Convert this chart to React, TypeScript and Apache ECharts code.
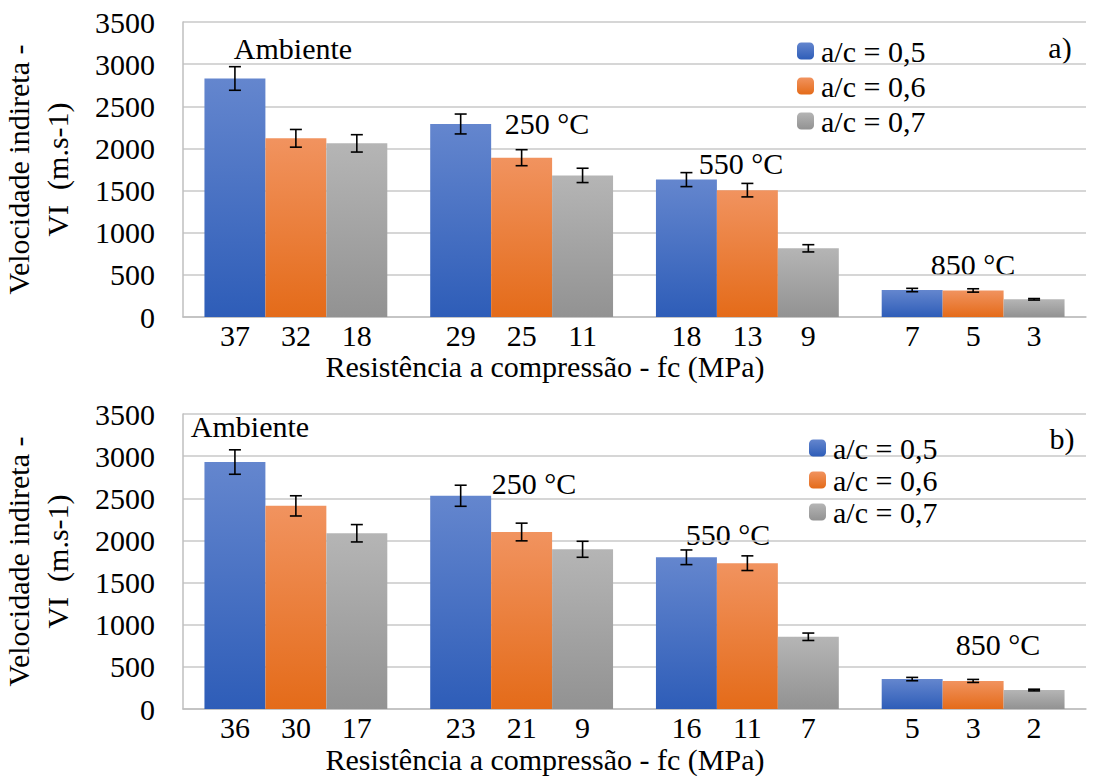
import React, { useEffect, useRef } from "react";
import * as echarts from "echarts";

const categories = ["Ambiente", "250 °C", "550 °C", "850 °C"];
const seriesNames = ["a/c = 0,5", "a/c = 0,6", "a/c = 0,7"];

// Panel a)
const fcA05 = [37, 29, 18, 7];
const fcA06 = [32, 25, 13, 5];
const fcA07 = [18, 11, 9, 3];
const vA05 = [2830, 2290, 1630, 320];
const vA06 = [2120, 1890, 1505, 315];
const vA07 = [2060, 1680, 815, 210];
const eA05 = [140, 118, 83, 20];
const eA06 = [105, 95, 80, 20];
const eA07 = [103, 85, 43, 9];

// Panel b)
const fcB05 = [36, 23, 16, 5];
const fcB06 = [30, 21, 11, 3];
const fcB07 = [17, 9, 7, 2];
const vB05 = [2930, 2530, 1800, 355];
const vB06 = [2410, 2100, 1730, 333];
const vB07 = [2085, 1895, 857, 225];
const eB05 = [145, 125, 87, 20];
const eB06 = [120, 105, 87, 18];
const eB07 = [103, 95, 44, 10];

const yTicks = { min: 0, max: 3500, interval: 500 };

const FONT = "Liberation Serif, DejaVu Serif, Times New Roman, Times, serif";
const FS = 30;
const CAT_GAP = 0.19;

const grad = (top: string, bottom: string) =>
  new echarts.graphic.LinearGradient(0, 0, 0, 1, [
    { offset: 0, color: top },
    { offset: 1, color: bottom },
  ]);

const colors = [
  ["#6486ce", "#2e5db8"],
  ["#f1935f", "#e46b19"],
  ["#b5b5b5", "#929292"],
];

function barSeries(idx: number, grid: number, values: number[], fc: number[]) {
  return {
    type: "bar",
    name: seriesNames[idx],
    xAxisIndex: grid,
    yAxisIndex: grid,
    data: values,
    barGap: "0%",
    barCategoryGap: CAT_GAP * 100 + "%",
    itemStyle: { color: grad(colors[idx][0], colors[idx][1]) },
    label: {
      show: true,
      position: "bottom",
      distance: 3,
      formatter: (p: any) => String(fc[p.dataIndex]),
      fontFamily: FONT,
      fontSize: FS,
      color: "#000",
    },
  };
}

function errSeries(idx: number, grid: number, values: number[], errs: number[]) {
  return {
    type: "custom",
    name: "err" + grid + "_" + idx,
    xAxisIndex: grid,
    yAxisIndex: grid,
    z: 10,
    data: values.map((v, i) => [i, v - errs[i], v + errs[i]]),
    renderItem: (params: any, api: any) => {
      const c = api.value(0);
      const lo = api.coord([c, api.value(1)]);
      const hi = api.coord([c, api.value(2)]);
      const band = api.size([1, 0])[0];
      const bw = (band * (1 - CAT_GAP)) / 3;
      const x = lo[0] + (idx - 1) * bw;
      const hw = 6;
      const style = { stroke: "#000", lineWidth: 1.6 };
      return {
        type: "group",
        children: [
          { type: "line", shape: { x1: x, y1: lo[1], x2: x, y2: hi[1] }, style },
          { type: "line", shape: { x1: x - hw, y1: lo[1], x2: x + hw, y2: lo[1] }, style },
          { type: "line", shape: { x1: x - hw, y1: hi[1], x2: x + hw, y2: hi[1] }, style },
        ],
      };
    },
  };
}

const axisLabelStyle = { fontFamily: FONT, fontSize: FS, color: "#000" };

function yAxis(grid: number) {
  return {
    type: "value",
    gridIndex: grid,
    ...yTicks,
    name: "Velocidade indireta -\nVI  (m.s-1)",
    nameLocation: "middle",
    nameGap: 106,
    nameTextStyle: { fontFamily: FONT, fontSize: FS, color: "#000", lineHeight: 39 },
    axisLine: { show: true, lineStyle: { color: "#bfbfbf", width: 1.5 } },
    axisTick: { show: false },
    axisLabel: { ...axisLabelStyle, margin: 28, formatter: (v: number) => String(v) },
    splitLine: { lineStyle: { color: "#c8c8c8", width: 1.5 } },
  };
}

function xAxis(grid: number) {
  return {
    type: "category",
    gridIndex: grid,
    data: categories,
    axisLine: { show: true, lineStyle: { color: "#bfbfbf", width: 1.5 } },
    axisTick: { show: false },
    axisLabel: { show: false },
  };
}

function txt(text: string, x: number, y: number, align = "center") {
  return {
    type: "text",
    x,
    y,
    style: {
      text,
      fontFamily: FONT,
      fontSize: FS,
      fill: "#000",
      align,
      verticalAlign: "middle",
    },
  };
}

export default function App() {
  const ref = useRef<HTMLDivElement>(null);
  useEffect(() => {
    if (!ref.current) return;
    const chart = echarts.init(ref.current, undefined, { renderer: "svg" });
    const legendBase = {
      orient: "vertical",
      data: seriesNames,
      itemWidth: 17,
      itemHeight: 17,
      textStyle: { fontFamily: FONT, fontSize: FS, color: "#000", padding: [0, 0, 0, 2] },
      selectedMode: false,
    };
    chart.setOption({
      animation: false,
      backgroundColor: "#fff",
      textStyle: { fontFamily: FONT },
      grid: [
        { left: 183, right: 13, top: 22, height: 295, containLabel: false, outerBoundsMode: "none" },
        { left: 183, right: 13, top: 414, height: 295, containLabel: false, outerBoundsMode: "none" },
      ],
      xAxis: [xAxis(0), xAxis(1)],
      yAxis: [yAxis(0), yAxis(1)],
      legend: [
        { ...legendBase, left: 792, top: 31, itemGap: 5 },
        { ...legendBase, left: 804, top: 428, itemGap: 2 },
      ],
      series: [
        barSeries(0, 0, vA05, fcA05),
        barSeries(1, 0, vA06, fcA06),
        barSeries(2, 0, vA07, fcA07),
        barSeries(0, 1, vB05, fcB05),
        barSeries(1, 1, vB06, fcB06),
        barSeries(2, 1, vB07, fcB07),
        errSeries(0, 0, vA05, eA05),
        errSeries(1, 0, vA06, eA06),
        errSeries(2, 0, vA07, eA07),
        errSeries(0, 1, vB05, eB05),
        errSeries(1, 1, vB06, eB06),
        errSeries(2, 1, vB07, eB07),
      ],
      graphic: [
        txt(categories[0], 293, 48),
        txt(categories[1], 547, 123),
        txt(categories[2], 741, 163),
        txt(categories[3], 973, 264),
        txt(categories[0], 250, 426),
        txt(categories[1], 534, 483),
        txt(categories[2], 728, 534),
        txt(categories[3], 998, 644),
        txt("a)", 1060, 47),
        txt("b)", 1062, 438),
        txt("Resistência a compressão - fc (MPa)", 545, 366),
        txt("Resistência a compressão - fc (MPa)", 545, 759),
      ],
    });
    return () => chart.dispose();
  }, []);
  return (
    <div
      ref={ref}
      style={{ position: "absolute", left: 0, top: 0, width: 1099, height: 776 }}
    />
  );
}
